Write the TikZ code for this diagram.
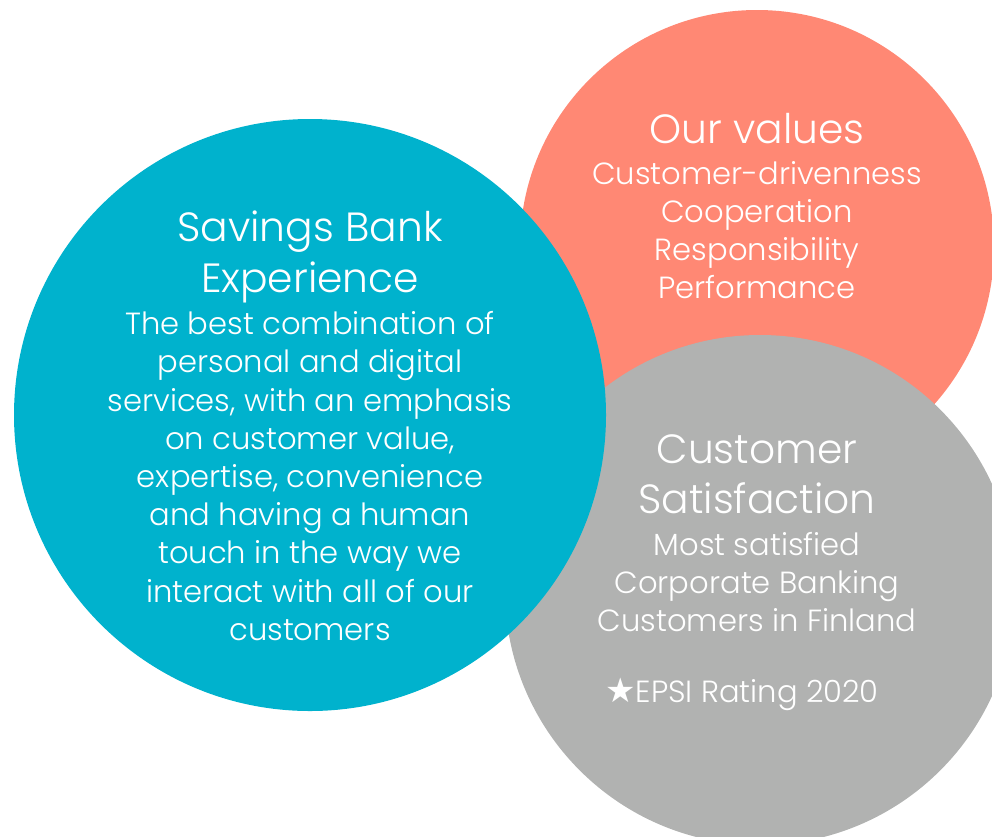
\documentclass[tikz,border=0pt]{standalone}
\usepackage{fontspec}
\setmainfont{Poppins}[UprightFont=* Light]
\newfontfamily\symfont{DejaVu Sans}
\definecolor{tealc}{RGB}{0,178,205}
\definecolor{salmonc}{RGB}{255,136,116}
\definecolor{grayc}{RGB}{177,178,177}
\tikzset{
  bubble/.style={circle, inner sep=0pt, draw=none},
  titletext/.style={text=white, align=center, font=\fontsize{40.8}{50.5}\selectfont},
  bodytext/.style={text=white, align=center, font=\fontsize{30.6}{38.2}\selectfont},
}
\begin{document}
\begin{tikzpicture}[x=1pt,y=-1pt]
\useasboundingbox (0,0) rectangle (992,836);
\clip (0,0) rectangle (992,836);
\node[bubble, fill=salmonc, minimum size=474pt] (values) at (757,247) {};
\node[bubble, fill=grayc, minimum size=510pt] (satisfaction) at (760,590) {};
\node[bubble, fill=tealc, minimum size=592pt] (experience) at (310,415) {};
\node[titletext] (t1) at (310,257) {Savings Bank\\Experience};
\node[bodytext] (b1) at (310,476) {The best combination of\\personal and digital\\services, with an emphasis\\on customer value,\\expertise, convenience\\and having a human\\touch in the way we\\interact with all of our\\customers};
\node[titletext] (t2) at (757,129) {Our values};
\node[bodytext] (b2) at (757,230) {Customer-drivenness\\Cooperation\\Responsibility\\Performance};
\node[titletext] (t3) at (757,474) {Customer\\Satisfaction};
\node[bodytext] (b3) at (757,582) {Most satisfied\\Corporate Banking\\Customers in Finland};
\node[bodytext] (b4) at (742,694) {{\symfont\fontsize{34}{34}\selectfont ★}EPSI Rating 2020};
\end{tikzpicture}
\end{document}
